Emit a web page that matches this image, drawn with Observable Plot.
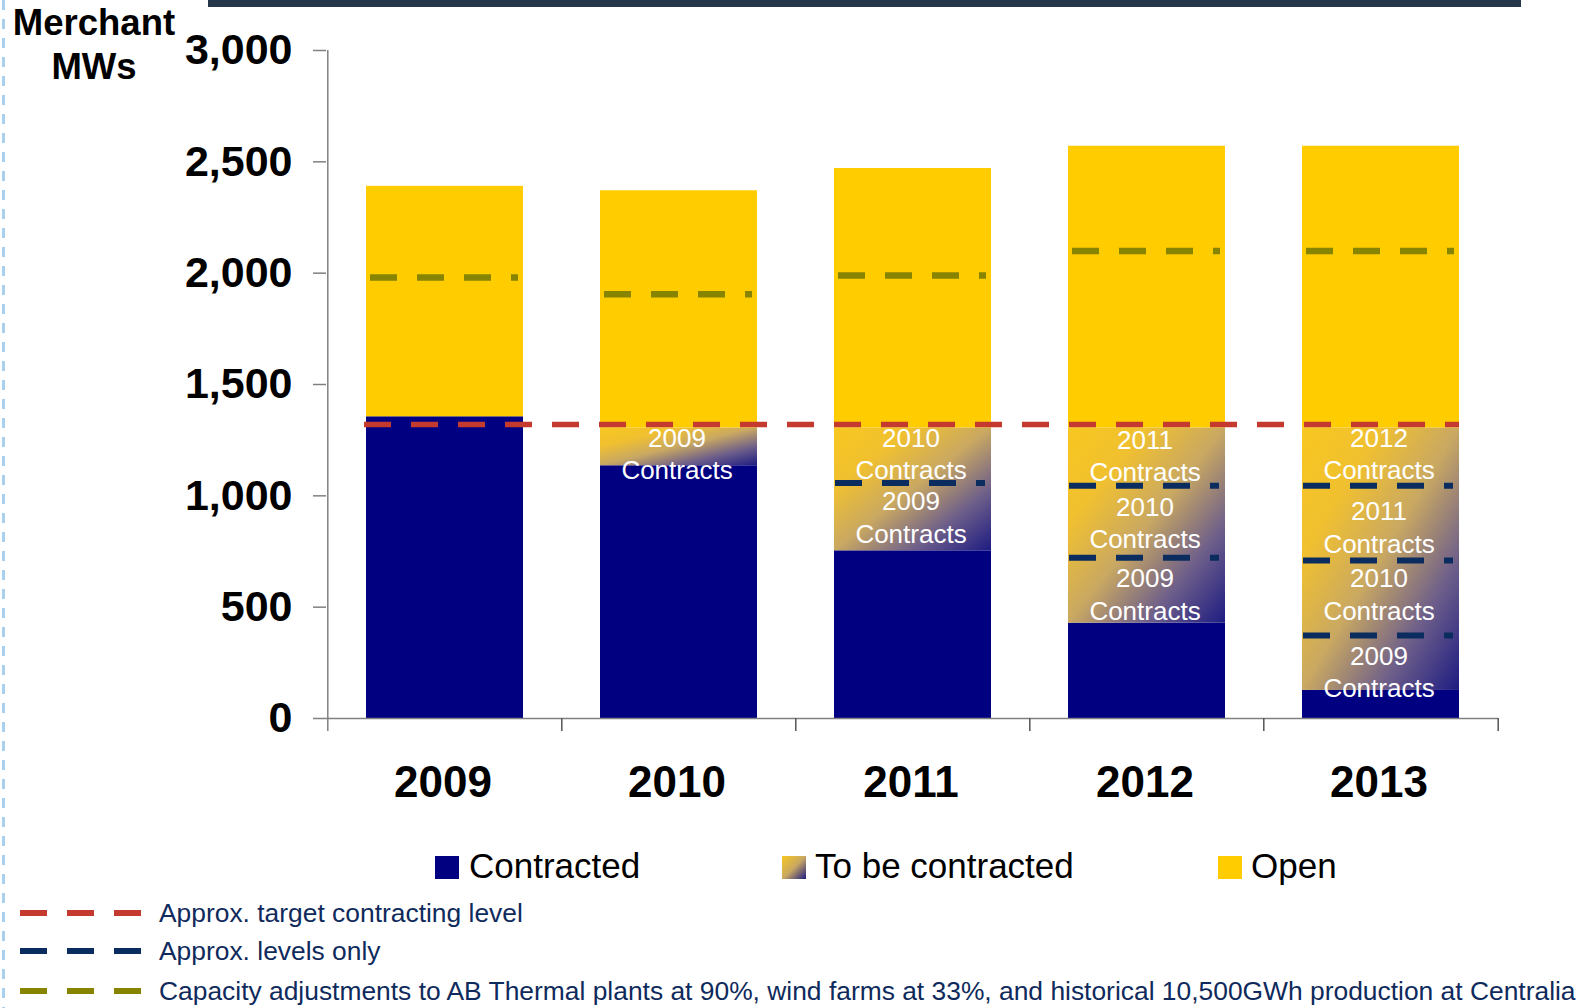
<!DOCTYPE html>
<html><head><meta charset="utf-8">
<script src="https://cdn.jsdelivr.net/npm/d3@7"></script>
<script src="https://cdn.jsdelivr.net/npm/@observablehq/plot@0.6"></script>
<style>
body{margin:0;background:#fff;font-family:"Liberation Sans",Arial,sans-serif;}
#wrap{position:relative;width:1589px;height:1008px;overflow:hidden;background:#fff;}
#chart{position:absolute;left:0;top:0;}
.abs{position:absolute;}
#topbar{left:208px;top:0;width:1313px;height:7px;background:#27374a;}
#leftdash{left:2px;top:0;width:3px;height:1008px;background:repeating-linear-gradient(to bottom,#a9d1ee 0 10px,transparent 10px 19px);}
#title{left:0;top:1px;width:188px;text-align:center;font-weight:bold;font-size:36.5px;line-height:44px;color:#000;}
.sw{position:absolute;top:856px;width:24px;height:23px;}
.lt{position:absolute;top:848px;font-size:35px;line-height:35px;color:#000;white-space:nowrap;}
.row{position:absolute;left:18px;height:30px;display:flex;align-items:center;white-space:nowrap;}
.row span{font-size:26.4px;line-height:30px;color:#0f2a5c;margin-left:17px;}
</style></head><body><div id="wrap">
<div id="chart"></div>
<div id="leftdash" class="abs"></div>
<div id="topbar" class="abs"></div>
<div id="title" class="abs">Merchant<br>MWs</div>
<div id="legend"></div>
<div id="legend2"></div>
</div>
<script>
// ---- data ----
const years = ["2009", "2010", "2011", "2012", "2013"];
const contracted = [1355, 1135, 753, 428, 126];
const committedTop = [1355, 1305, 1305, 1305, 1305];
const totalMW = [2390, 2370, 2470, 2570, 2570];
const capacityAdjusted = [1980, 1905, 1990, 2100, 2100];
const targetLevel = 1320;
const levelYears = ["2011", "2012", "2012", "2013", "2013", "2013"];
const levelValues = [1058, 1045, 722, 1045, 710, 373];
const labelYears = ["2010", "2011", "2011", "2012", "2012", "2012", "2013", "2013", "2013", "2013"];
const labelValues = [1195, 1195, 908, 1186, 885, 563, 1195, 863, 563, 216];
const labelContractYears = ["2009", "2010", "2009", "2011", "2010", "2009", "2012", "2011", "2010", "2009"];
const yTicks = [0, 500, 1000, 1500, 2000, 2500, 3000];
const seriesNames = ["Contracted", "To be contracted", "Open"];
const lineLegend = [
  "Approx. target contracting level",
  "Approx. levels only",
  "Capacity adjustments to AB Thermal plants at 90%, wind farms at 33%, and historical 10,500GWh production at Centralia"
];

// ---- styles ----
const NAVY = "#000080", GOLD = "#FFCC00", RED = "#c53a2e", DNAVY = "#0b2c5e", OLIVE = "#868400";
const FONT = '"Liberation Sans", Arial, sans-serif';

const bars = years.map((year, i) => ({year, c: contracted[i], t: committedTop[i], total: totalMW[i], cap: capacityAdjusted[i]}));
const levels = levelValues.map((v, i) => ({year: levelYears[i], v}));
const labels = labelValues.map((v, i) => ({year: labelYears[i], v, text: labelContractYears[i] + "\nContracts"}));

const W = 1589, H = 800, ML = 326, MR = 91, MT = 50, MB = 82;
const step = (W - ML - MR) / years.length;
const last = years[years.length - 1];

const svg = Plot.plot({
  width: W, height: H, marginLeft: ML, marginRight: MR, marginTop: MT, marginBottom: MB,
  style: {fontFamily: FONT, background: "transparent", overflow: "visible"},
  x: {type: "band", domain: years, paddingInner: 0.33, paddingOuter: 0.165},
  y: {domain: [0, 3000]},
  marks: [
    Plot.barY(bars, {x: "year", y1: () => 0, y2: "c", fill: NAVY}),
    Plot.barY(bars, {x: "year", y1: "c", y2: "t", fill: "url(#tbc)"}),
    Plot.barY(bars, {x: "year", y1: "t", y2: "total", fill: GOLD}),
    Plot.text(labels, {x: "year", y: "v", text: "text", fill: "white", fontSize: 26, lineHeight: 1.25, dx: -2}),
    Plot.ruleY(bars, {x1: "year", x2: "year", y: "cap", stroke: OLIVE, strokeWidth: 6.5, strokeDasharray: "27,20", insetLeft: 4, insetRight: 5}),
    Plot.ruleY(levels, {x1: "year", x2: "year", y: "v", stroke: DNAVY, strokeWidth: 6, strokeDasharray: "27,20", insetLeft: 1, insetRight: 6}),
    Plot.ruleY([targetLevel], {x1: () => years[0], x2: () => last, y: d => d, stroke: RED, strokeWidth: 5.5, strokeDasharray: "27,20", insetLeft: -2}),
    Plot.ruleY([0], {stroke: "#808080", strokeWidth: 1.5}),
    Plot.ruleX([years[0]], {x: d => d, dx: -step / 2, y1: () => 3000, y2: () => 0, insetBottom: -13, stroke: "#808080", strokeWidth: 1.5}),
    Plot.ruleX(years.slice(1), {x: d => d, dx: -step / 2, y1: () => 0, y2: () => 0, insetBottom: -13, stroke: "#555", strokeWidth: 1.5}),
    Plot.ruleX([last], {x: d => d, dx: step / 2, y1: () => 0, y2: () => 0, insetBottom: -13, stroke: "#555", strokeWidth: 1.5}),
    Plot.axisY(yTicks, {tickSize: 13, tickPadding: 21, tickFormat: d3.format(","), fontSize: 43, fontWeight: "bold", fill: "#000", stroke: "#808080", strokeWidth: 1.5, label: null}),
    Plot.axisX(years, {tickSize: 0, tickPadding: 47, fontSize: 44, fontWeight: "bold", fill: "#000", label: null, dx: -2})
  ]
});

// gradient for "To be contracted"
const ns = "http://www.w3.org/2000/svg";
const defs = document.createElementNS(ns, "defs");
const lg = document.createElementNS(ns, "linearGradient");
lg.setAttribute("id", "tbc");
lg.setAttribute("x1", "0"); lg.setAttribute("y1", "0"); lg.setAttribute("x2", "1"); lg.setAttribute("y2", "1");
[[0, "#f8c71f"], [0.25, "#f0c030"], [0.5, "#c9a862"], [0.75, "#6e5f8a"], [1, "#1e1c82"]].forEach(([o, c]) => {
  const s = document.createElementNS(ns, "stop");
  s.setAttribute("offset", o); s.setAttribute("stop-color", c);
  lg.appendChild(s);
});
defs.appendChild(lg);
svg.insertBefore(defs, svg.firstChild);
document.getElementById("chart").appendChild(svg);

// legend (series)
const legend = document.getElementById("legend");
const swFill = [NAVY, "linear-gradient(135deg,#f8c71f 0%,#c9a862 50%,#1e1c82 100%)", GOLD];
const swX = [435, 782, 1218];
const ltX = [469, 815, 1251];
seriesNames.forEach((name, i) => {
  const sw = document.createElement("div");
  sw.className = "sw"; sw.style.left = swX[i] + "px"; sw.style.background = swFill[i];
  legend.appendChild(sw);
  const t = document.createElement("div");
  t.className = "lt"; t.style.left = ltX[i] + "px"; t.textContent = name;
  legend.appendChild(t);
});

// legend (lines)
const legend2 = document.getElementById("legend2");
const lineColors = [RED, DNAVY, OLIVE];
const rowCenters = [913, 951, 991];
lineLegend.forEach((txt, i) => {
  const row = document.createElement("div");
  row.className = "row"; row.style.top = (rowCenters[i] - 15) + "px";
  row.innerHTML = `<svg width="124" height="10"><line x1="2" x2="124" y1="5" y2="5" stroke="${lineColors[i]}" stroke-width="6" stroke-dasharray="27,20"/></svg><span>${txt}</span>`;
  legend2.appendChild(row);
});
</script>
</body></html>
